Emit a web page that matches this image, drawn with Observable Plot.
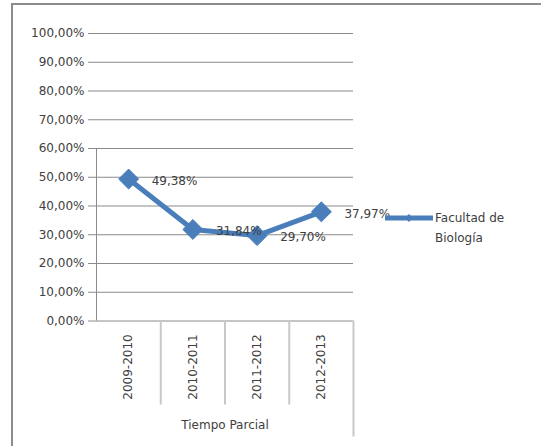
<!DOCTYPE html>
<html>
<head>
<meta charset="utf-8">
<script src="https://cdn.jsdelivr.net/npm/d3@7"></script>
<script src="https://cdn.jsdelivr.net/npm/@observablehq/plot@0.6"></script>
<style>
  html, body { margin: 0; padding: 0; background: #fff; }
  #wrap { position: relative; width: 541px; height: 446px; overflow: hidden; font-family: "DejaVu Sans", sans-serif; }
  #frame { position: absolute; left: 11px; top: 3px; width: 540px; height: 460px; border-left: 2px solid #8c8c8c; border-top: 2px solid #8c8c8c; pointer-events: none; }
  #legend { position: absolute; left: 385px; top: 208px; display: flex; align-items: flex-start; font-size: 12px; color: #404040; line-height: 20px; }
  #legend svg { margin-top: 0px; }
</style>
</head>
<body>
<div id="wrap">
  <div id="chart"></div>
  <div id="frame"></div>
  <div id="legend"></div>
</div>
<script>
const categories = ["2009-2010", "2010-2011", "2011-2012", "2012-2013"];
const values = [0.4938, 0.3184, 0.2970, 0.3797];
const yTicks = [0, 0.1, 0.2, 0.3, 0.4, 0.5, 0.6, 0.7, 0.8, 0.9, 1.0];
const groupLabel = "Tiempo Parcial";
const seriesName = "Facultad de Biología";

const locale = d3.formatLocale({decimal: ",", thousands: ".", grouping: [3], currency: ["", "€"]});
const pct = locale.format(".2%");

const data = categories.map((c, i) => ({cat: c, idx: i + 0.5, v: values[i]}));
const bounds = d3.range(categories.length + 1);
const blue = "#4a7ebb";
const txt = "#404040";
const grid = "#8a8a8a";

const chart = Plot.plot({
  width: 541,
  height: 446,
  marginLeft: 96,
  marginRight: 188,
  marginTop: 33,
  marginBottom: 125.5,
  style: {fontFamily: "DejaVu Sans, sans-serif", fontSize: "12px", color: txt, background: "transparent", overflow: "visible"},
  x: {domain: [0, categories.length], axis: null},
  y: {domain: [0, 1], axis: null},
  marks: [
    Plot.ruleY(yTicks, {stroke: grid, strokeWidth: 1, insetLeft: -8}),
    Plot.text(yTicks, {y: d => d, frameAnchor: "left", dx: -12, textAnchor: "end", text: d => pct(d), fill: txt}),
    Plot.ruleX(bounds.filter(b => b > 0 && b < categories.length), {y1: 0, y2: 0, insetBottom: -84, stroke: "#c8c8c8", strokeWidth: 2}),
    Plot.ruleX([categories.length], {y1: 0, y2: 0, insetBottom: -116, stroke: "#c8c8c8", strokeWidth: 2}),
    Plot.ruleX([0], {y1: 0, y2: 1, insetBottom: -116, stroke: grid, strokeWidth: 1}),
    Plot.text(data, {x: "idx", y: 0, text: "cat", rotate: -90, dy: 46, textAnchor: "middle", fill: txt}),
    Plot.text([groupLabel], {x: categories.length / 2, y: 0, text: d => d, dy: 104, fill: txt}),
    Plot.line(data, {x: "idx", y: "v", stroke: blue, strokeWidth: 5, strokeLinejoin: "round"}),
    Plot.dot(data, {x: "idx", y: "v", symbol: "diamond2", r: 9, fill: blue, stroke: blue, strokeWidth: 1}),
    Plot.text(data, {x: "idx", y: "v", text: d => pct(d.v), dx: 23, dy: 2, textAnchor: "start", fill: txt})
  ]
});
document.getElementById("chart").appendChild(chart);

// legend
const parts = seriesName.split(" ");
const first = parts.slice(0, 2).join(" ");
const second = parts.slice(2).join(" ");
document.getElementById("legend").innerHTML =
  `<svg width="50" height="20"><line x1="0" x2="48" y1="10" y2="10" stroke="${blue}" stroke-width="5"/>` +
  `<path d="M24,6 L28,10 L24,14 L20,10 Z" fill="${blue}"/></svg>` +
  `<div>${first}<br>${second}</div>`;
</script>
</body>
</html>
